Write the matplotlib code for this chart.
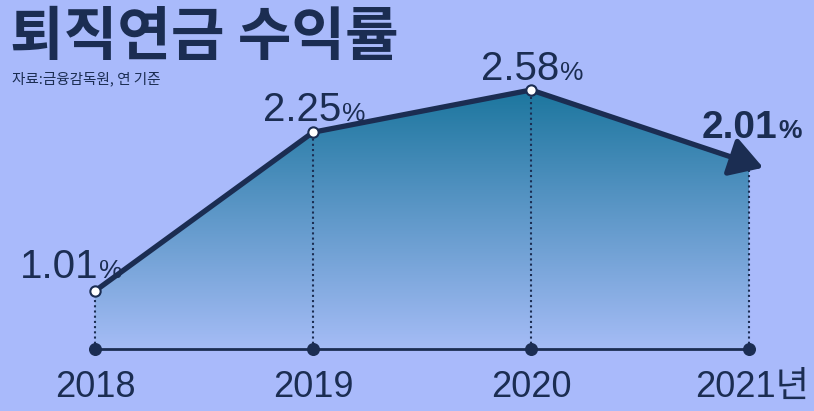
import numpy as np
import matplotlib
matplotlib.use("Agg")
import matplotlib.pyplot as plt
from matplotlib.patches import Polygon

years = [2018, 2019, 2020, 2021]
returns = [1.01, 2.25, 2.58, 2.01]
year_labels = ["2018", "2019", "2020", "2021년"]
title = "퇴직연금 수익률"
source = "자료:금융감독원, 연 기준"

bg = "#a9bafb"
navy = "#1b2d52"

num_font = ["Liberation Sans", "Noto Sans CJK KR", "DejaVu Sans"]
kr_font = ["Noto Sans CJK KR", "DejaVu Sans"]

fig = plt.figure(figsize=(8.14, 4.11), dpi=100)
fig.patch.set_facecolor(bg)
ax = fig.add_axes([0, 0, 1, 1])
ax.set_facecolor(bg)
ax.set_xlim(2017.564, 2021.298)
ax.set_ylim(0.0725, 3.283)
ax.axis("off")

base = 0.56

# gradient fill under the line
poly = [(years[0], base)] + list(zip(years, returns)) + [(years[-1], base)]
patch = Polygon(poly, closed=True, facecolor="none", edgecolor="none")
ax.add_patch(patch)
top_c = np.array([28, 118, 158]) / 255
bot_c = np.array([165, 188, 246]) / 255
t = np.linspace(0, 1, 256)[:, None]
grad = top_c * (1 - t[..., None]) + bot_c * t[..., None]
grad = np.repeat(grad, 2, axis=1)
im = ax.imshow(grad, extent=[years[0], years[-1], base, max(returns)],
               aspect="auto", origin="upper", zorder=1)
im.set_clip_path(patch)

# baseline and dotted verticals
ax.plot([years[0], years[-1]], [base, base], color=navy, lw=2, zorder=3)
ax.scatter(years, [base] * len(years), s=70, color=navy, zorder=4)
for x, y in zip(years, returns):
    ax.plot([x, x], [base, y], color=navy, lw=1.5, ls=(0, (1, 1.5)), zorder=2)

# main line with arrow at the end
ax.plot(years[:-1], returns[:-1], color=navy, lw=3.8, zorder=5,
        solid_capstyle="round", solid_joinstyle="round")
dx = 0.065
slope = (returns[-1] - returns[-2]) / (years[-1] - years[-2])
ax.annotate("", xy=(years[-1] + dx, returns[-1] + slope * dx),
            xytext=(years[-2], returns[-2]),
            arrowprops=dict(arrowstyle="-|>,head_length=2.0,head_width=1.2",
                            color=navy, lw=3.8, shrinkA=0, shrinkB=0),
            zorder=5)
ax.scatter(years[:-1], returns[:-1], s=55, facecolor="white",
           edgecolor=navy, linewidth=1.5, zorder=6)

# value labels (x offset in years, y offset in %)
offsets = [(-0.115, 0.10), (0.0, 0.09), (0.0, 0.08), (0.0, 0.195)]
for i, (x, y) in enumerate(zip(years, returns)):
    ox, oy = offsets[i]
    last = i == len(years) - 1
    w = "bold" if last else "normal"
    fs = 28 if last else 29
    ax.text(x + ox + 0.13, y + oy, f"{y:.2f}", ha="right", va="baseline",
            fontsize=fs, color=navy, family=num_font, fontweight=w, zorder=7)
    ax.text(x + ox + 0.135, y + oy, "%", ha="left", va="baseline",
            fontsize=19, color=navy, family=num_font, fontweight=w, zorder=7)

# year labels
for x, lab in zip(years, year_labels):
    xx = x + (0.015 if lab.endswith("년") else 0)
    ax.text(xx, 0.182, lab, ha="center", va="baseline", fontsize=26,
            color=navy, family=num_font, zorder=7)

fig.text(0.012, 0.866, title, ha="left", va="baseline", fontsize=42,
         fontweight="black", color=navy, family=kr_font)
fig.text(0.015, 0.797, source, ha="left", va="baseline", fontsize=10.5,
         color=navy, family=kr_font)

fig.savefig("out.png", dpi=100, facecolor=bg)
